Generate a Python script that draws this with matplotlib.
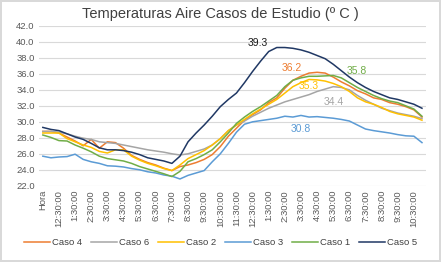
import matplotlib
matplotlib.use("Agg")
import numpy as np
from matplotlib import pyplot as plt

plt.rcParams["font.family"] = ["Liberation Sans", "DejaVu Sans"]

# categories: header cell "Hora" followed by half-hour steps
horas = ["Hora"]
for h in range(47):
    mins = 12 * 60 + h * 30  # starts at 12:00:00
    hh = (mins // 60) % 12
    hh = 12 if hh == 0 else hh
    horas.append("%d:%02d:00" % (hh, mins % 60))

caso4 = [28.8, 28.8, 28.6, 28.1, 27.6, 27.0, 27.8, 26.7, 27.5, 27.4, 26.7, 25.8,
         25.3, 24.9, 24.6, 24.2, 23.9, 24.4, 24.6, 24.9, 25.3, 25.9, 26.9, 28.2,
         29.2, 30.2, 30.9, 31.5, 32.4, 33.0, 34.2, 35.2, 35.7, 36.1, 36.2, 36.1,
         35.6, 35.0, 34.5, 33.9, 33.5, 33.0, 32.8, 32.4, 32.2, 31.9, 31.5, 30.6]
caso6 = [28.8, 28.8, 28.7, 28.5, 28.2, 27.95, 27.8, 27.5, 27.4, 27.3, 27.1, 26.9,
         26.7, 26.5, 26.35, 26.2, 26.0, 25.85, 26.0, 26.3, 26.6, 27.1, 27.9, 28.9,
         29.6, 30.1, 30.7, 31.2, 31.7, 32.1, 32.5, 32.8, 33.1, 33.4, 33.8, 34.1,
         34.4, 34.3, 34.0, 33.3, 32.7, 32.2, 31.7, 31.4, 31.1, 30.9, 30.7, 30.4]
caso2 = [28.6, 28.6, 28.6, 27.9, 27.5, 27.1, 26.8, 26.3, 26.1, 26.5, 26.5, 25.7,
         25.2, 24.8, 24.5, 24.15, 23.9, 24.6, 25.4, 25.9, 26.4, 27.1, 27.9, 28.9,
         29.6, 30.3, 31.0, 31.6, 32.2, 32.8, 33.6, 34.4, 34.9, 35.3, 35.25, 35.1,
         34.8, 34.4, 33.8, 33.0, 32.5, 32.2, 31.8, 31.3, 31.0, 30.8, 30.6, 30.2]
caso3 = [25.7, 25.5, 25.6, 25.65, 25.95, 25.3, 25.0, 24.8, 24.5, 24.45, 24.35, 24.15,
         24.0, 23.75, 23.6, 23.35, 23.2, 22.85, 23.3, 23.6, 23.9, 25.0, 26.0, 27.3,
         28.7, 29.7, 30.0, 30.15, 30.3, 30.45, 30.7, 30.6, 30.8, 30.6, 30.65, 30.55,
         30.45, 30.3, 30.1, 29.6, 29.1, 28.9, 28.75, 28.6, 28.4, 28.25, 28.2, 27.4]
caso1 = [28.35, 28.05, 27.65, 27.6, 27.1, 26.7, 26.25, 25.7, 25.4, 25.25, 25.1, 24.8,
         24.4, 24.1, 23.8, 23.5, 23.15, 23.8, 25.0, 25.4, 25.9, 26.5, 27.5, 28.6,
         29.8, 30.6, 31.3, 31.9, 32.6, 33.3, 34.4, 35.2, 35.5, 35.7, 35.7, 35.75,
         35.8, 35.5, 34.9, 34.3, 33.8, 33.3, 32.9, 32.6, 32.4, 32.0, 31.6, 30.7]
caso5 = [29.3, 29.05, 28.9, 28.5, 28.1, 27.8, 27.3, 26.75, 26.5, 26.5, 26.4, 26.2,
         25.9, 25.5, 25.3, 25.1, 24.8, 25.7, 27.5, 28.6, 29.6, 30.7, 31.9, 32.8,
         33.6, 34.9, 36.3, 37.6, 38.8, 39.3, 39.3, 39.2, 39.0, 38.7, 38.3, 37.9,
         37.2, 36.4, 35.6, 34.9, 34.3, 33.8, 33.4, 33.0, 32.8, 32.5, 32.2, 31.7]

series = [("Caso 4", caso4, "#ED7D31"), ("Caso 6", caso6, "#A5A5A5"),
          ("Caso 2", caso2, "#FFC000"), ("Caso 3", caso3, "#5B9BD5"),
          ("Caso 1", caso1, "#70AD47"), ("Caso 5", caso5, "#203864")]

# label offsets (points) for the max value of each series
label_off = {"Caso 4": (-18, 3), "Caso 6": (0, -11), "Caso 2": (0, -5),
             "Caso 3": (0, -10), "Caso 1": (17, 3), "Caso 5": (-14, 3)}
label_col = {"Caso 5": "#1a1a1a"}

fig = plt.figure(figsize=(4.41, 2.62), dpi=100)
fig.patch.set_edgecolor("#D9D9D9")
fig.patch.set_linewidth(1.5)
ax = fig.add_axes([0.088, 0.291, 0.878, 0.610])

x = np.arange(len(horas))
for name, vals, col in series:
    ax.plot(x, vals, color=col, lw=1.1, label=name)
    i = int(np.argmax(vals))
    ax.annotate("%.1f" % vals[i], (i, vals[i]), xytext=label_off[name],
                textcoords="offset points", ha="center", va="center",
                fontsize=7.5, color=label_col.get(name, col))

ax.set_xlim(-0.5, len(horas) - 0.5)
ax.set_ylim(22, 42)
ax.set_yticks(np.arange(22, 42.1, 2))
ax.set_yticklabels(["%.1f" % v for v in np.arange(22, 42.1, 2)])
ax.set_xticks(x[::2])
ax.set_xticklabels(horas[::2], rotation=90)
ax.tick_params(length=0, labelsize=6.8, colors="#595959", pad=3)
ax.grid(axis="y", color="#D9D9D9", lw=0.8)
ax.set_axisbelow(True)
for s in ax.spines.values():
    s.set_visible(False)

fig.suptitle("Temperaturas Aire Casos de Estudio (º C )", y=0.975, fontsize=10.5,
             color="#404040")

fig.legend(loc="lower center", bbox_to_anchor=(0.5, 0.025), ncol=6, frameon=False,
           fontsize=6.8, handlelength=2.7, handletextpad=0.2, columnspacing=1.0,
           labelcolor="#404040")

fig.savefig("out.png", dpi=100)
